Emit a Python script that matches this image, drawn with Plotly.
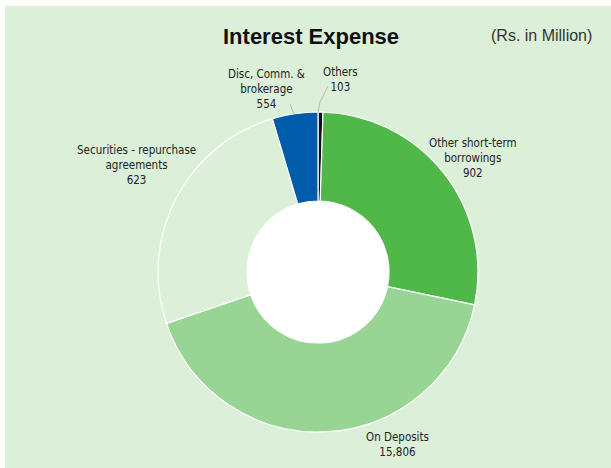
import plotly.graph_objects as go

# Data
categories = ["Others", "Other short-term borrowings", "On Deposits",
              "Securities - repurchase agreements", "Disc, Comm. & brokerage"]
label_values = ["103", "902", "15,806", "623", "554"]
# slice shares (%) as drawn in the reference
slice_share = [0.5, 27.8, 41.5, 25.6, 4.6]
colors = ["#111111", "#50b848", "#98d594", "#dcf0d9", "#005bab"]

W, H = 611, 468
cx, cy, R = 318, 272, 160
HOLE_R = 71


def px(x):
    return x / W


def py(y):
    return 1 - y / H


fig = go.Figure()
fig.add_trace(go.Pie(
    labels=categories,
    values=slice_share,
    sort=False,
    direction="clockwise",
    rotation=0,
    hole=HOLE_R / R,
    marker=dict(colors=colors, line=dict(color="white", width=1.2)),
    textinfo="none",
    hoverinfo="label",
    showlegend=False,
    domain=dict(x=[px(cx - R), px(cx + R)], y=[py(cy + R), py(cy - R)]),
))

label_font = dict(family="DejaVu Sans Condensed, Liberation Sans Narrow, sans-serif",
                  size=11.5, color="#222222")

label_pos = {
    "Others": (340, 79),
    "Disc, Comm. & brokerage": (266, 89),
    "Other short-term borrowings": (473, 158),
    "Securities - repurchase agreements": (136, 165),
    "On Deposits": (397, 444),
}
label_text = {
    "Others": "Others",
    "Disc, Comm. & brokerage": "Disc, Comm. &<br>brokerage",
    "Other short-term borrowings": "Other short-term<br>borrowings",
    "Securities - repurchase agreements": "Securities - repurchase<br>agreements",
    "On Deposits": "On Deposits",
}

annotations = []
for cat, val in zip(categories, label_values):
    x, y = label_pos[cat]
    annotations.append(dict(
        x=px(x), y=py(y), xref="paper", yref="paper",
        text=label_text[cat] + "<br>" + val,
        showarrow=False, align="center", font=label_font,
        xanchor="center", yanchor="middle",
    ))

annotations.append(dict(
    x=px(311), y=py(37), xref="paper", yref="paper",
    text="<b>Interest Expense</b>", showarrow=False,
    font=dict(family="Liberation Sans, Arial, sans-serif", size=22, color="#111111"),
    xanchor="center", yanchor="middle",
))
annotations.append(dict(
    x=px(594), y=py(36), xref="paper", yref="paper",
    text="(Rs. in Million)", showarrow=False,
    font=dict(family="Liberation Sans, Arial, sans-serif", size=16, color="#333333"),
    xanchor="right", yanchor="middle",
))

shapes = [
    dict(type="rect", xref="paper", yref="paper", x0=px(5), x1=1, y0=0, y1=py(6),
         fillcolor="#dcf0d9", line=dict(width=0), layer="below"),
    dict(type="circle", xref="paper", yref="paper",
         x0=px(cx - HOLE_R), x1=px(cx + HOLE_R), y0=py(cy + HOLE_R), y1=py(cy - HOLE_R),
         fillcolor="white", line=dict(width=0), layer="below"),
    # leader lines
    dict(type="path", xref="paper", yref="paper",
         path=f"M {px(318)},{py(112)} L {px(320)},{py(102)} L {px(328)},{py(86)}",
         line=dict(color="#aaaaaa", width=0.8)),
    dict(type="path", xref="paper", yref="paper",
         path=f"M {px(294)},{py(114)} L {px(290)},{py(104)}",
         line=dict(color="#aaaaaa", width=0.8)),
]

fig.update_layout(
    width=W, height=H,
    margin=dict(l=0, r=0, t=0, b=0),
    paper_bgcolor="white",
    plot_bgcolor="white",
    annotations=annotations,
    shapes=shapes,
)

fig.write_html("out.html", config={"displayModeBar": False},
               post_script="document.body.style.margin='0';")
